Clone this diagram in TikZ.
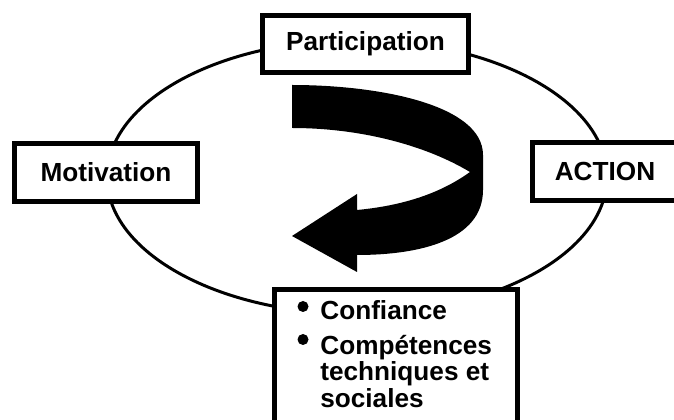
\documentclass[tikz,border=0pt]{standalone}
\usepackage{fontspec}
\setmainfont{Liberation Sans}

\tikzset{
  label box/.style={draw=black, line width=3.1pt, fill=white, inner sep=0pt,
    font=\fontsize{14.9}{15.1}\selectfont\bfseries},
  cycle line/.style={line width=1.7pt},
  bullet text/.style={inner sep=0pt, align=left,
    font=\fontsize{14.9}{15.1}\selectfont\bfseries}
}

\begin{document}
\begin{tikzpicture}

    \useasboundingbox (0,0) rectangle (13.48,8.4);
    \clip (0,0) rectangle (13.48,8.4);

    % the cycle behind the boxes
    \draw[cycle line] (7.14,4.86) ellipse (5.0 and 2.74);

    % curved arrow in the middle
    \fill[black] (5.84,6.70) .. controls (7.6,6.70) and (9.66,6.3) .. (9.66,5.3)
        -- (9.66,4.6) .. controls (9.66,3.6) and (8.4,3.3) .. (7.14,3.3)
        -- (7.14,2.96) -- (5.84,3.68) -- (7.14,4.52) -- (7.14,4.2)
        .. controls (8.2,4.3) and (8.9,4.6) .. (9.4,4.96)
        .. controls (8.5,5.5) and (7.2,5.84) .. (5.84,5.84) -- cycle;

    % the four boxes
    \node[label box, minimum width=4.11cm, minimum height=1.13cm] (part) at (7.31,7.52) {Participation};
    \node[label box, minimum width=3.65cm, minimum height=1.15cm] (motiv) at (2.12,4.95) {Motivation};
    \node[label box, minimum width=2.89cm, minimum height=1.15cm] (action) at (12.1,4.97) {ACTION};
    \node[label box, minimum width=4.85cm, minimum height=3.0cm] (skills) at (7.92,1.105) {};

    % bullet list inside the lower box
    \fill (6.06,2.27) circle (0.11);
    \fill (6.06,1.61) circle (0.11);
    \node[bullet text, anchor=base west] (conf) at (6.4,2.0) {Confiance};
    \node[bullet text, anchor=north west] (comp) at (6.4,1.71) {Compétences\\techniques et\\sociales};

\end{tikzpicture}
\end{document}
